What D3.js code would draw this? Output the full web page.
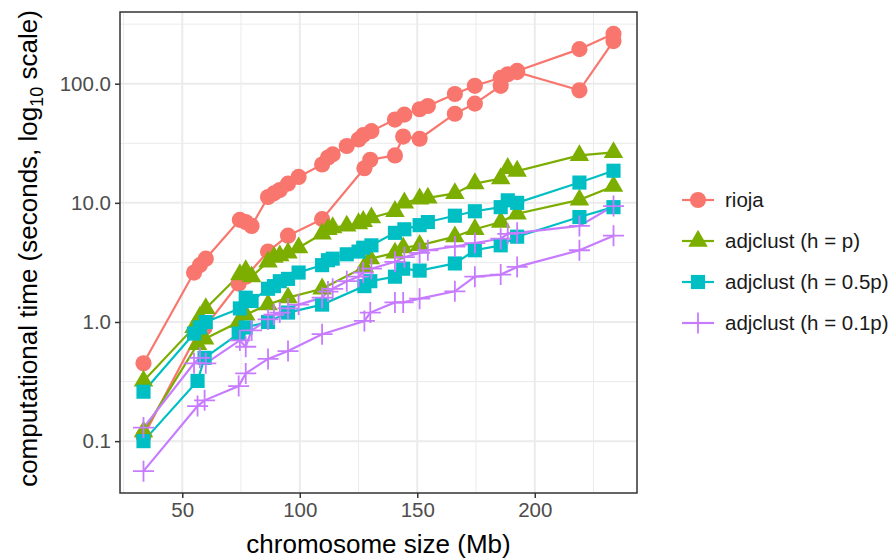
<!DOCTYPE html>
<html>
<head>
<meta charset="utf-8">
<script src="https://cdn.jsdelivr.net/npm/d3@7"></script>
<style>
  body { margin: 0; background: #fff; }
  text { font-family: "Liberation Sans", Arial, sans-serif; }
</style>
</head>
<body>
<div id="chart"></div>
<script>
// chromosome sizes (Mb) for the two runs
var sizesA = [33.5, 55, 57.5, 60, 74.5, 77, 79.5, 86.5, 89, 91.5, 95, 99.5, 109.5, 112, 114, 120, 125, 127, 130.5, 140.5, 144.5, 151, 154.5, 166, 174.5, 185.5, 188.5, 192.5, 219, 233.5];
var sizesB = [33.5, 56.5, 59.5, 74, 77, 86.5, 95, 109.5, 127.5, 130, 140.5, 144, 151, 166, 174.5, 185.5, 192.5, 219, 233.5];

// computational time (s)
var riojaA  = [0.45, 2.6, 3.0, 3.4, 7.2, 6.9, 6.4, 11.2, 12.0, 12.8, 14.5, 16.5, 21, 24, 25.5, 30, 34, 37, 40, 50, 55, 61, 65, 82, 96, 112, 120, 128, 195, 262];
var riojaB  = [0.11, 0.8, 0.9, 2.1, 2.4, 3.9, 5.3, 7.3, 19.5, 23, 25, 36, 34.5, 56, 68, 96, 125, 88, 228];
var hpA     = [0.32, 0.9, 1.1, 1.3, 2.5, 2.7, 2.4, 3.2, 3.5, 3.6, 3.8, 4.2, 5.5, 6.0, 6.2, 6.4, 6.7, 7.0, 7.5, 8.5, 10, 10.8, 11, 12, 14.5, 16, 19.5, 18.5, 25, 26.5];
var hpB     = [0.12, 0.65, 0.72, 1.0, 1.15, 1.4, 1.6, 1.9, 2.9, 3.4, 3.8, 4.2, 4.4, 5.2, 6.0, 6.9, 8.1, 10.6, 13.8];
var h05A    = [0.26, 0.8, 0.9, 1.0, 1.3, 1.6, 1.5, 1.9, 2.0, 2.2, 2.3, 2.6, 3.0, 3.3, 3.4, 3.7, 3.9, 4.2, 4.4, 5.6, 6.0, 6.5, 6.9, 7.8, 8.5, 9.2, 10.5, 10.0, 14.8, 18.6];
var h05B    = [0.1, 0.32, 0.5, 0.8, 0.9, 1.0, 1.2, 1.4, 2.0, 2.2, 2.4, 2.8, 2.7, 3.1, 4.0, 4.4, 5.2, 7.6, 9.2];
var h01A    = [0.13, 0.45, 0.5, 0.45, 0.7, 0.62, 0.85, 1.05, 1.15, 1.2, 1.3, 1.4, 1.6, 1.8, 1.9, 2.2, 2.4, 2.6, 2.8, 3.2, 3.5, 3.8, 4.0, 4.3, 4.6, 5.0, 5.5, 5.6, 6.4, 9.4];
var h01B    = [0.056, 0.197, 0.22, 0.29, 0.37, 0.49, 0.57, 0.79, 1.02, 1.2, 1.46, 1.46, 1.57, 1.81, 2.4, 2.5, 2.9, 4.0, 5.3];

var methods = ["rioja", "adjclust (h = p)", "adjclust (h = 0.5p)", "adjclust (h = 0.1p)"];
var colors = ["#F8766D", "#7CAE00", "#00BFC4", "#C77CFF"];
var shapes = ["circle", "triangle", "square", "cross"];
var xTicks = [50, 100, 150, 200];
var xMinor = [25, 75, 125, 175, 225];
var yTicks = [0.1, 1, 10, 100];
var yTickLabels = ["0.1", "1.0", "10.0", "100.0"];

var runs = [
  {m: 0, x: sizesA, y: riojaA}, {m: 0, x: sizesB, y: riojaB},
  {m: 1, x: sizesA, y: hpA},    {m: 1, x: sizesB, y: hpB},
  {m: 2, x: sizesA, y: h05A},   {m: 2, x: sizesB, y: h05B},
  {m: 3, x: sizesA, y: h01A},   {m: 3, x: sizesB, y: h01B}
];
runs.forEach(function(r){
  r.pts = r.x.map(function(v, i){ return {x: v, y: r.y[i]}; });
});

var width = 891, height = 558;
var panel = {left: 120, right: 637, top: 12, bottom: 493};

var allX = d3.merge(runs.map(function(r){ return r.x; }));
var allY = d3.merge(runs.map(function(r){ return r.y; }));
var xe = d3.extent(allX), xpad = (xe[1] - xe[0]) * 0.05;
var le = d3.extent(allY).map(Math.log10), lpad = (le[1] - le[0]) * 0.05;

var x = d3.scaleLinear().domain([xe[0] - xpad, xe[1] + xpad]).range([panel.left, panel.right]);
var y = d3.scaleLog().domain([Math.pow(10, le[0] - lpad), Math.pow(10, le[1] + lpad)]).range([panel.bottom, panel.top]);
var yMinor = [-1.5, -0.5, 0.5, 1.5, 2.5].map(function(e){ return Math.pow(10, e); })
  .filter(function(v){ return v > y.domain()[0] && v < y.domain()[1]; });

var svg = d3.select("#chart").append("svg").attr("width", width).attr("height", height);

// grid
var grid = svg.append("g");
grid.selectAll("line.xmin").data(xMinor).enter().append("line")
  .attr("x1", x).attr("x2", x).attr("y1", panel.top).attr("y2", panel.bottom)
  .attr("stroke", "#ebebeb").attr("stroke-width", 1);
grid.selectAll("line.ymin").data(yMinor).enter().append("line")
  .attr("x1", panel.left).attr("x2", panel.right).attr("y1", y).attr("y2", y)
  .attr("stroke", "#ebebeb").attr("stroke-width", 1);
grid.selectAll("line.xmaj").data(xTicks).enter().append("line")
  .attr("x1", x).attr("x2", x).attr("y1", panel.top).attr("y2", panel.bottom)
  .attr("stroke", "#ebebeb").attr("stroke-width", 2);
grid.selectAll("line.ymaj").data(yTicks).enter().append("line")
  .attr("x1", panel.left).attr("x2", panel.right).attr("y1", y).attr("y2", y)
  .attr("stroke", "#ebebeb").attr("stroke-width", 2);

var line = d3.line().x(function(d){ return x(d.x); }).y(function(d){ return y(d.y); });

function marker(sel, shape, color) {
  if (shape === "cross") {
    sel.append("path").attr("d", "M-10.5,0H10.5M0,-10.5V10.5")
      .attr("stroke", color).attr("stroke-width", 1.8).attr("fill", "none");
  } else {
    var sym = {circle: d3.symbolCircle, triangle: d3.symbolTriangle, square: d3.symbolSquare}[shape];
    var sz = {circle: 205, triangle: 165, square: 200}[shape];
    sel.append("path").attr("d", d3.symbol().type(sym).size(sz)()).attr("fill", color);
  }
}

var plot = svg.append("g");
runs.forEach(function(r){
  plot.append("path").datum(r.pts).attr("d", line)
    .attr("fill", "none").attr("stroke", colors[r.m]).attr("stroke-width", 2.2);
});
runs.forEach(function(r){
  plot.append("g").selectAll("g").data(r.pts).enter().append("g")
    .attr("transform", function(d){ return "translate(" + x(d.x) + "," + y(d.y) + ")"; })
    .each(function(){ marker(d3.select(this), shapes[r.m], colors[r.m]); });
});

// panel border
svg.append("rect").attr("x", panel.left).attr("y", panel.top)
  .attr("width", panel.right - panel.left).attr("height", panel.bottom - panel.top)
  .attr("fill", "none").attr("stroke", "#333333").attr("stroke-width", 1.5);

// axes
var xAxis = svg.append("g").attr("transform", "translate(0," + panel.bottom + ")")
  .call(d3.axisBottom(x).tickValues(xTicks).tickSize(5).tickPadding(4).tickFormat(d3.format("d")));
var yAxis = svg.append("g").attr("transform", "translate(" + panel.left + ",0)")
  .call(d3.axisLeft(y).tickValues(yTicks).tickSize(5).tickPadding(4)
    .tickFormat(function(d, i){ return yTickLabels[i]; }));
[xAxis, yAxis].forEach(function(a){
  a.select(".domain").remove();
  a.selectAll(".tick line").attr("stroke", "#333333").attr("stroke-width", 1.5);
  a.selectAll(".tick text").attr("fill", "#4d4d4d").style("font-size", "20.5px")
    .style("font-family", "'Liberation Sans', Arial, sans-serif");
});

svg.append("text").attr("x", (panel.left + panel.right) / 2).attr("y", 553)
  .attr("text-anchor", "middle").style("font-size", "26px").attr("fill", "#000")
  .text("chromosome size (Mb)");

var yt = svg.append("text")
  .attr("transform", "translate(37," + ((panel.top + panel.bottom) / 2 - 4) + ") rotate(-90)")
  .attr("text-anchor", "middle").style("font-size", "26px").attr("fill", "#000");
yt.append("tspan").text("computational time (seconds,  log");
yt.append("tspan").attr("dy", 6).style("font-size", "18px").text("10");
yt.append("tspan").attr("dy", -6).text("  scale)");

// legend
var lg = svg.append("g").selectAll("g").data(methods).enter().append("g")
  .attr("transform", function(d, i){ return "translate(698," + (200 + i * 41) + ")"; });
lg.append("line").attr("x1", -16).attr("x2", 16)
  .attr("stroke", function(d, i){ return colors[i]; }).attr("stroke-width", 2.2);
lg.each(function(d, i){ marker(d3.select(this), shapes[i], colors[i]); });
lg.append("text").attr("x", 27).attr("dy", "0.36em").style("font-size", "20.5px")
  .attr("fill", "#1a1a1a").text(function(d){ return d; });
</script>
</body>
</html>
